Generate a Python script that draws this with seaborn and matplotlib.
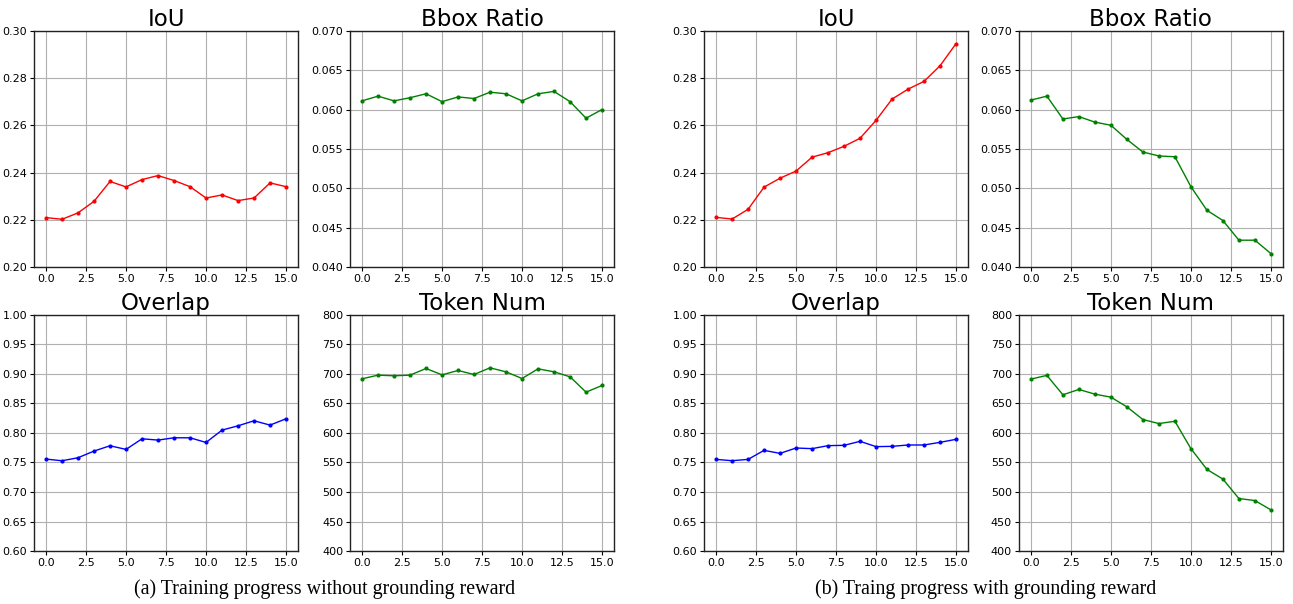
import numpy as np
import pandas as pd
import matplotlib
matplotlib.use("Agg")
import matplotlib.pyplot as plt
import seaborn as sns

steps = list(range(16))

# (a) without grounding reward
iou_a = [0.2209, 0.2202, 0.2229, 0.2278, 0.2362, 0.2339, 0.2370, 0.2387,
         0.2366, 0.2340, 0.2292, 0.2305, 0.2281, 0.2292, 0.2356, 0.2340]
bbox_a = [0.0611, 0.0617, 0.0611, 0.0615, 0.0620, 0.0610, 0.0616, 0.0614,
          0.0622, 0.0620, 0.0611, 0.0620, 0.0623, 0.0610, 0.0589, 0.0600]
overlap_a = [0.7557, 0.7529, 0.7580, 0.7693, 0.7783, 0.7721, 0.7901, 0.7879,
             0.7918, 0.7918, 0.7839, 0.8048, 0.8121, 0.8206, 0.8133, 0.8240]
token_a = [691.7, 697.9, 696.8, 697.9, 709.2, 698.4, 705.8, 699.0,
           710.3, 703.5, 692.2, 708.6, 703.5, 695.1, 669.1, 680.4]

# (b) with grounding reward
iou_b = [0.2210, 0.2203, 0.2244, 0.2338, 0.2376, 0.2406, 0.2465, 0.2484,
         0.2511, 0.2545, 0.2621, 0.2711, 0.2753, 0.2786, 0.2852, 0.2946]
bbox_b = [0.0612, 0.0617, 0.0588, 0.0591, 0.0584, 0.0580, 0.0562, 0.0546,
          0.0541, 0.0540, 0.0502, 0.0472, 0.0459, 0.0434, 0.0434, 0.0417]
overlap_b = [0.7552, 0.7530, 0.7552, 0.7705, 0.7654, 0.7745, 0.7734, 0.7785,
             0.7790, 0.7858, 0.7768, 0.7773, 0.7796, 0.7796, 0.7841, 0.7892]
token_b = [691.2, 697.5, 664.6, 673.7, 665.7, 660.6, 644.2, 622.7,
           615.9, 619.8, 573.4, 538.3, 521.8, 488.9, 485.5, 469.7]

titles = ["IoU", "Bbox Ratio", "Overlap", "Token Num"]
colors = ["red", "green", "blue", "green"]
ylims = [(0.20, 0.30), (0.040, 0.070), (0.60, 1.00), (400, 800)]
yfmt = ["%.2f", "%.3f", "%.2f", "%d"]
captions = ["(a) Training progress without grounding reward",
            "(b) Traing progress with grounding reward"]

sns.set_theme(style="ticks", rc={"text.color": "black", "xtick.color": "black",
                                 "ytick.color": "black", "axes.labelcolor": "black"})
plt.rcParams["font.family"] = ["DejaVu Sans"]

fig = plt.figure(figsize=(12.93, 6.04), dpi=100)

lefts = [[0.0263, 0.2707], [0.5445, 0.788]]
bottoms = [0.558, 0.0877]
w, h = 0.2042, 0.391

groups = [[iou_a, bbox_a, overlap_a, token_a], [iou_b, bbox_b, overlap_b, token_b]]
for g, series in enumerate(groups):
    for i, vals in enumerate(series):
        r, c = divmod(i, 2)
        ax = fig.add_axes([lefts[g][c], bottoms[r], w, h])
        df = pd.DataFrame({"step": steps, "value": vals})
        sns.lineplot(data=df, x="step", y="value", ax=ax, color=colors[i],
                     marker="o", markersize=3, markeredgewidth=0, linewidth=1)
        ax.set_ylim(*ylims[i])
        ax.set_xticks([0, 2.5, 5, 7.5, 10, 12.5, 15])
        ax.xaxis.set_major_formatter(matplotlib.ticker.FormatStrFormatter("%.1f"))
        ax.yaxis.set_major_formatter(matplotlib.ticker.FormatStrFormatter(yfmt[i]))
        ax.grid(True, color="#b0b0b0", linewidth=0.8)
        ax.set_xlabel("")
        ax.set_ylabel("")
        ax.set_title(titles[i], fontsize=16.5, pad=2, color="black")
        ax.tick_params(labelsize=8, length=3, width=0.8, pad=2)
        for s in ax.spines.values():
            s.set_color("#222222")
            s.set_linewidth(1)
    fig.text(0.251 if g == 0 else 0.762, 0.025, captions[g], ha="center",
             va="center", fontsize=14.4, family="Liberation Serif", color="black")

fig.savefig("out.png", dpi=100)
